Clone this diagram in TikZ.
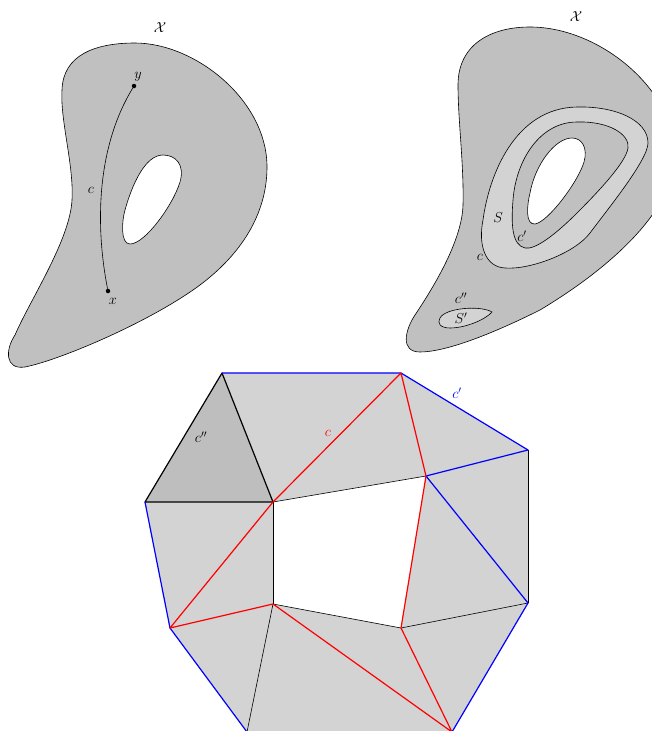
\documentclass[tikz,border=0pt]{standalone}
\definecolor{blobgray}{gray}{0.753}
\definecolor{lightfill}{gray}{0.827}
\definecolor{darkfill}{gray}{0.745}
\begin{document}
\begin{tikzpicture}[x=1pt,y=-1pt,
  lbl/.style={inner sep=0pt,font=\fontsize{14}{16}\selectfont},
  outline/.style={draw=black,line width=0.6pt},
  dotpt/.style={circle,fill=black,inner sep=0pt,minimum size=4.5pt},
  thinedge/.style={draw=black,line width=0.6pt},
  thickedge/.style={draw=black,line width=1.2pt},
  rededge/.style={draw=red,line width=1.2pt},
  blueedge/.style={draw=blue,line width=1.2pt}]
\useasboundingbox (0,0) rectangle (652,731);
\begin{scope}
\clip (0,0) rectangle (652,731);
% ---------- left blob ----------
\draw[outline,fill=blobgray] (135,43) .. controls (195,43) and (267,100) .. (267,167)
  .. controls (267,215) and (240,255) .. (200,285)
  .. controls (150,322) and (60,360) .. (25,367)
  .. controls (5,370) and (5,350) .. (15,335)
  .. controls (30,300) and (70,240) .. (72,200)
  .. controls (74,165) and (60,120) .. (62,90)
  .. controls (63,55) and (95,43) .. (135,43) -- cycle;
\draw[outline,fill=white] (163,155) .. controls (176,155) and (185,165) .. (180,182)
  .. controls (173,205) and (145,244) .. (130,244)
  .. controls (120,244) and (122,220) .. (125,210)
  .. controls (132,185) and (145,155) .. (163,155) -- cycle;
\node[dotpt] (x) at (108,291) {};
\node[dotpt] (y) at (134,86) {};
\draw[line width=0.6pt] (x) .. controls (96,230) and (95,150) .. (y);
\node[lbl] (lx) at (113,301) {$x$};
\node[lbl] (ly) at (138,77) {$y$};
\node[lbl] (lc) at (91,190) {$c$};
\node[lbl] (lX) at (160,28) {$\mathcal{X}$};
% ---------- right blob ----------
\draw[outline,fill=blobgray] (530,27) .. controls (600,27) and (675,90) .. (675,155)
  .. controls (675,205) and (620,262) .. (540,310)
  .. controls (490,335) and (445,352) .. (420,352)
  .. controls (400,352) and (405,330) .. (415,315)
  .. controls (435,285) and (462,240) .. (463,205)
  .. controls (464,165) and (458,120) .. (458,85)
  .. controls (458,45) and (490,27) .. (530,27) -- cycle;
\draw[outline,fill=lightfill] (577,107) .. controls (615,106) and (648,120) .. (648,143)
  .. controls (648,160) and (607,210) .. (590,233)
  .. controls (575,253) and (530,270) .. (505,268)
  .. controls (485,267) and (478,245) .. (483,220)
  .. controls (489,175) and (515,108) .. (577,107) -- cycle;
\draw[outline,fill=blobgray] (577,122) .. controls (610,121) and (630,135) .. (628,148)
  .. controls (626,162) and (600,190) .. (577,213)
  .. controls (555,235) and (535,250) .. (525,248)
  .. controls (512,245) and (511,225) .. (513,200)
  .. controls (516,160) and (540,122) .. (577,122) -- cycle;
\draw[outline,fill=white] (572,138) .. controls (582,138) and (588,148) .. (584,162)
  .. controls (578,182) and (548,222) .. (535,224)
  .. controls (525,225) and (527,205) .. (530,193)
  .. controls (535,165) and (555,138) .. (572,138) -- cycle;
\draw[outline,fill=lightfill] (440,318) .. controls (445,308) and (480,305) .. (492,312)
  .. controls (485,320) and (465,328) .. (450,328)
  .. controls (440,328) and (437,323) .. (440,318) -- cycle;
\node[lbl] (rX) at (576,17) {$\mathcal{X}$};
\node[lbl] (rS) at (498,218) {$S$};
\node[lbl] (rcp) at (522,236) {$c'$};
\node[lbl] (rc) at (480,257) {$c$};
\node[lbl] (rcpp) at (461,298) {$c''$};
\node[lbl] (rSp) at (461,318) {$S'$};
% ---------- triangulation ----------
\coordinate (A) at (222,373);
\coordinate (B) at (401,373);
\coordinate (C) at (528,450);
\coordinate (D) at (528,603);
\coordinate (E) at (452,732);
\coordinate (F) at (247,732);
\coordinate (G) at (170,628);
\coordinate (H) at (145,502);
\coordinate (I1) at (273,502);
\coordinate (I2) at (426,476);
\coordinate (I3) at (401,628);
\coordinate (I4) at (273,604);
\fill[lightfill] (A) -- (B) -- (C) -- (D) -- (E) -- (F) -- (G) -- (H) -- cycle;
\fill[white] (I1) -- (I2) -- (I3) -- (I4) -- cycle;
\fill[darkfill] (H) -- (A) -- (I1) -- cycle;
\draw[thinedge] (I1) -- (I2);
\draw[thinedge] (I1) -- (I4);
\draw[thinedge] (I4) -- (I3);
\draw[thinedge] (I3) -- (D);
\draw[thinedge] (C) -- (D);
\draw[thinedge] (I4) -- (F);
\draw[thickedge,line join=round] (H) -- (A) -- (I1) -- cycle;
\draw[blueedge,line join=round] (A) -- (B) -- (C) -- (I2) -- (D) -- (E);
\draw[blueedge,line join=round] (F) -- (G) -- (H);
\draw[rededge,line join=round] (G) -- (I1) -- (B) -- (I2) -- (I3) -- (E) -- (I4) -- cycle;
\node[lbl,text=blue] (tcp) at (457,393) {$c'$};
\node[lbl,text=red] (tc) at (328,433) {$c$};
\node[lbl] (tcpp) at (201,437) {$c''$};
\end{scope}
\end{tikzpicture}
\end{document}
